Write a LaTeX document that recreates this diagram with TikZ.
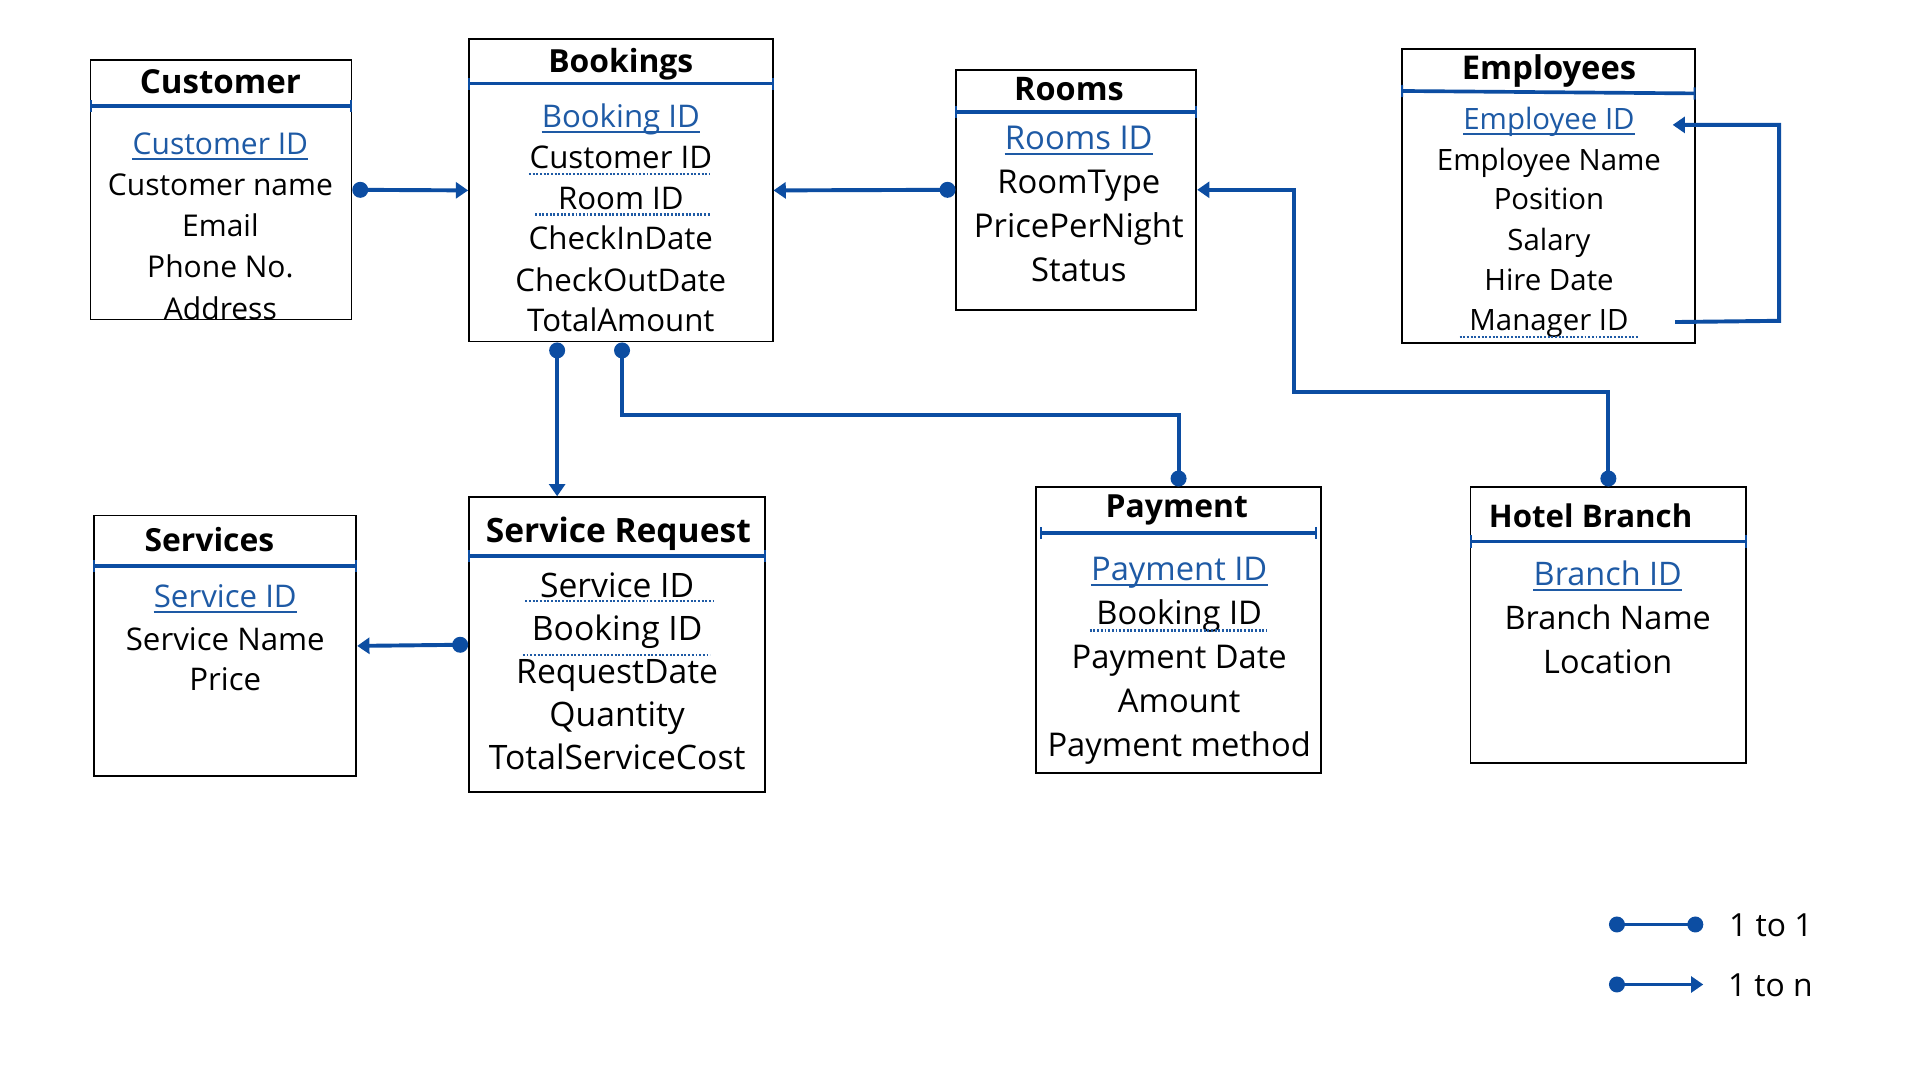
\documentclass[tikz,border=0pt]{standalone}
\usepackage{fontspec}
\setmainfont{Open Sans}
\usetikzlibrary{arrows.meta,calc}
\definecolor{cblue}{RGB}{12,77,162}
\definecolor{tblue}{RGB}{30,90,165}
\begin{document}
\begin{tikzpicture}[x=1pt,y=-1pt,
  box/.style={draw=black, line width=1.4pt, inner sep=0pt},
  ttl/.style={anchor=base, inner sep=0pt, font=\fontsize{#1}{30}\selectfont\bfseries},
  fsz/.style={font=\fontsize{#1}{30}\selectfont},
  fa/.style={anchor=base, inner sep=0pt, fsz=24.5},
  fb/.style={anchor=base, inner sep=0pt, fsz=26},
  pk/.style={text=tblue},
  sepl/.style={draw=cblue, line width=3pt, {Bar[width=10pt,line width=1.6pt]}-{Bar[width=10pt,line width=1.6pt]}},
  fkdot/.style={draw=tblue, line width=2pt, dash pattern=on 1.6pt off 1.4pt},
  rel/.style={draw=cblue, line width=3.2pt},
  onen/.style={rel, {Circle[length=13pt]}-{Triangle[length=10pt,width=13pt]}},
  oneone/.style={rel, {Circle[length=13pt]}-{Circle[length=13pt]}},
  selfrel/.style={rel, -{Triangle[length=10pt,width=13pt]}},
  pkul/.style={draw=tblue, line width=1.6pt}
]
\useasboundingbox[fill=white] (0,0) rectangle (1568,882);

% ---------- Customer ----------
\node[box, minimum width=213pt, minimum height=212pt] (cust) at (180.5,155) {};
\node[ttl=27] (custT) at (180,76) {Customer};
\draw[sepl] ($(cust.north west)+(0,38)$) -- ($(cust.north east)+(0,38)$);
\node[fa,pk] (custF1) at (180,126) {Customer ID};
\draw[pkul] ([yshift=-3.5pt]custF1.base west) -- ([yshift=-3.5pt]custF1.base east);
\node[fa] (custF2) at (180,160) {Customer name};
\node[fa] (custF3) at (180,193.5) {Email};
\node[fa] (custF4) at (180,227) {Phone No.};
\node[fa] (custF5) at (180,261) {Address};

% ---------- Bookings ----------
\node[box, minimum width=248pt, minimum height=247pt] (book) at (507,155.5) {};
\node[ttl=26] (bookT) at (507,59) {Bookings};
\draw[sepl] ($(book.north west)+(0,37)$) -- ($(book.north east)+(0,37)$);
\node[fa,fsz=25.5,pk] (bookF1) at (507,104) {Booking ID};
\draw[pkul] ([yshift=-3.5pt]bookF1.base west) -- ([yshift=-3.5pt]bookF1.base east);
\node[fa,fsz=25.5] (bookF2) at (507,137.5) {Customer ID};
\draw[fkdot] (432,142) -- (580,142);
\node[fa,fsz=25.5] (bookF3) at (507,171) {Room ID};
\draw[fkdot] (437,175) -- (580,175);
\node[fa,fsz=25.5] (bookF4) at (507,204) {CheckInDate};
\node[fa,fsz=25.5] (bookF5) at (507,238) {CheckOutDate};
\node[fa,fsz=25.5] (bookF6) at (507,271) {TotalAmount};

% ---------- Rooms ----------
\node[box, minimum width=196pt, minimum height=196pt] (rooms) at (879,155) {};
\node[ttl=26.5] (roomsT) at (873,82) {Rooms};
\draw[sepl] ($(rooms.north west)+(0,35)$) -- ($(rooms.north east)+(0,35)$);
\node[fb,fsz=26.8,pk] (roomsF1) at (881,122) {Rooms ID};
\draw[pkul] ([yshift=-3.5pt]roomsF1.base west) -- ([yshift=-3.5pt]roomsF1.base east);
\node[fb,fsz=26.8] (roomsF2) at (881,158) {RoomType};
\node[fb,fsz=26.8] (roomsF3) at (881,194) {PricePerNight};
\node[fb,fsz=26.8] (roomsF4) at (881,230) {Status};

% ---------- Employees ----------
\node[box, minimum width=239pt, minimum height=240pt] (emp) at (1264.5,160) {};
\node[ttl=26.7] (empT) at (1265,65) {Employees};
\draw[sepl] ($(emp.north west)+(0,35)$) -- ($(emp.north east)+(0,37)$);
\node[fa,fsz=24,pk] (empF1) at (1265,106) {Employee ID};
\draw[pkul] ([yshift=-3.5pt]empF1.base west) -- ([yshift=-3.5pt]empF1.base east);
\node[fa,fsz=24] (empF2) at (1265,139) {Employee Name};
\node[fa,fsz=24] (empF3) at (1265,171.5) {Position};
\node[fa,fsz=24] (empF4) at (1265,204.5) {Salary};
\node[fa,fsz=24] (empF5) at (1265,237.5) {Hire Date};
\node[fa,fsz=24] (empF6) at (1265,270) {Manager ID};
\draw[fkdot] (1192,275) -- (1338,275);

% ---------- Services ----------
\node[box, minimum width=214pt, minimum height=213pt] (serv) at (184,527.5) {};
\node[ttl=26] (servT) at (171,450) {Services};
\draw[sepl] ($(serv.north west)+(0,42)$) -- ($(serv.north east)+(0,42)$);
\node[fb,fsz=25.5,pk] (servF1) at (184,496.5) {Service ID};
\draw[pkul] ([yshift=-3.5pt]servF1.base west) -- ([yshift=-3.5pt]servF1.base east);
\node[fb,fsz=25.5] (servF2) at (184,531) {Service Name};
\node[fb,fsz=25.5] (servF3) at (184,564) {Price};

% ---------- Service Request ----------
\node[box, minimum width=242pt, minimum height=241pt] (sr) at (504,526.5) {};
\node[ttl=27.4] (srT) at (505,443) {Service Request};
\draw[sepl] ($(sr.north west)+(0,49)$) -- ($(sr.north east)+(0,49)$);
\node[fb,fsz=27.5] (srF1) at (504,488) {Service ID};
\draw[fkdot] (429,491) -- (583,491);
\node[fb,fsz=27.5] (srF2) at (504,523) {Booking ID};
\draw[fkdot] (427,535) -- (580,535);
\node[fb,fsz=27.5] (srF3) at (504,558.5) {RequestDate};
\node[fb,fsz=27.5] (srF4) at (504,593.5) {Quantity};
\node[fb,fsz=27.5] (srF5) at (504,628.5) {TotalServiceCost};

% ---------- Payment ----------
\node[box, minimum width=233pt, minimum height=233pt] (pay) at (962.5,514.5) {};
\node[ttl=26] (payT) at (961,422.5) {Payment};
\draw[sepl] ($(pay.north west)+(4,38)$) -- ($(pay.north east)+(-4,38)$);
\node[fb,fsz=26.7,pk] (payF1) at (963,474) {Payment ID};
\draw[pkul] ([yshift=-3.5pt]payF1.base west) -- ([yshift=-3.5pt]payF1.base east);
\node[fb,fsz=26.7] (payF2) at (963,510) {Booking ID};
\draw[fkdot] (890,515) -- (1035,515);
\node[fb,fsz=26.7] (payF3) at (963,546) {Payment Date};
\node[fb,fsz=26.7] (payF4) at (963,582) {Amount};
\node[fb,fsz=26.7] (payF5) at (963,618) {Payment method};

% ---------- Hotel Branch ----------
\node[box, minimum width=225pt, minimum height=225pt] (hb) at (1313.5,510.5) {};
\node[ttl=25.5] (hbT) at (1299,430.5) {Hotel Branch};
\draw[sepl] ($(hb.north west)+(0,45)$) -- ($(hb.north east)+(0,45)$);
\node[fb,fsz=26.5,pk] (hbF1) at (1313,478) {Branch ID};
\draw[pkul] ([yshift=-3.5pt]hbF1.base west) -- ([yshift=-3.5pt]hbF1.base east);
\node[fb,fsz=26.5] (hbF2) at (1313,514) {Branch Name};
\node[fb,fsz=26.5] (hbF3) at (1313,550) {Location};

% ---------- Relationships ----------
\draw[onen] (cust.east) -- (book.west);
\draw[onen] (rooms.west) -- (book.east);
\coordinate (hrTurn) at (1057,320);
\draw[onen] (hb.north) |- (hrTurn) |- (rooms.east);
\draw[oneone] ([xshift=1pt]book.south) -- ++(0,59) -| (pay.north);
\coordinate (bsStart) at ($(book.south)+(-52,0)$);
\draw[onen] (bsStart) -- (bsStart |- sr.north);
\draw[onen] (sr.west) -- (serv.east);
\coordinate (mgrEnd) at (1368,263);
\coordinate (eidEnd) at (1366,102);
\draw[selfrel] (mgrEnd) -- (1453,262) |- (eidEnd);

% ---------- Legend ----------
\coordinate (lgA1) at (1314,755);
\coordinate (lgA2) at (1391,755);
\coordinate (lgB1) at (1314,804);
\coordinate (lgB2) at (1391,804);
\draw[oneone] (lgA1) -- (lgA2);
\draw[onen] (lgB1) -- (lgB2);
\node[fb, anchor=base west] (lgT1) at (1412,765) {1 to 1};
\node[fb, anchor=base west] (lgT2) at (1411,814) {1 to n};
\end{tikzpicture}
\end{document}
